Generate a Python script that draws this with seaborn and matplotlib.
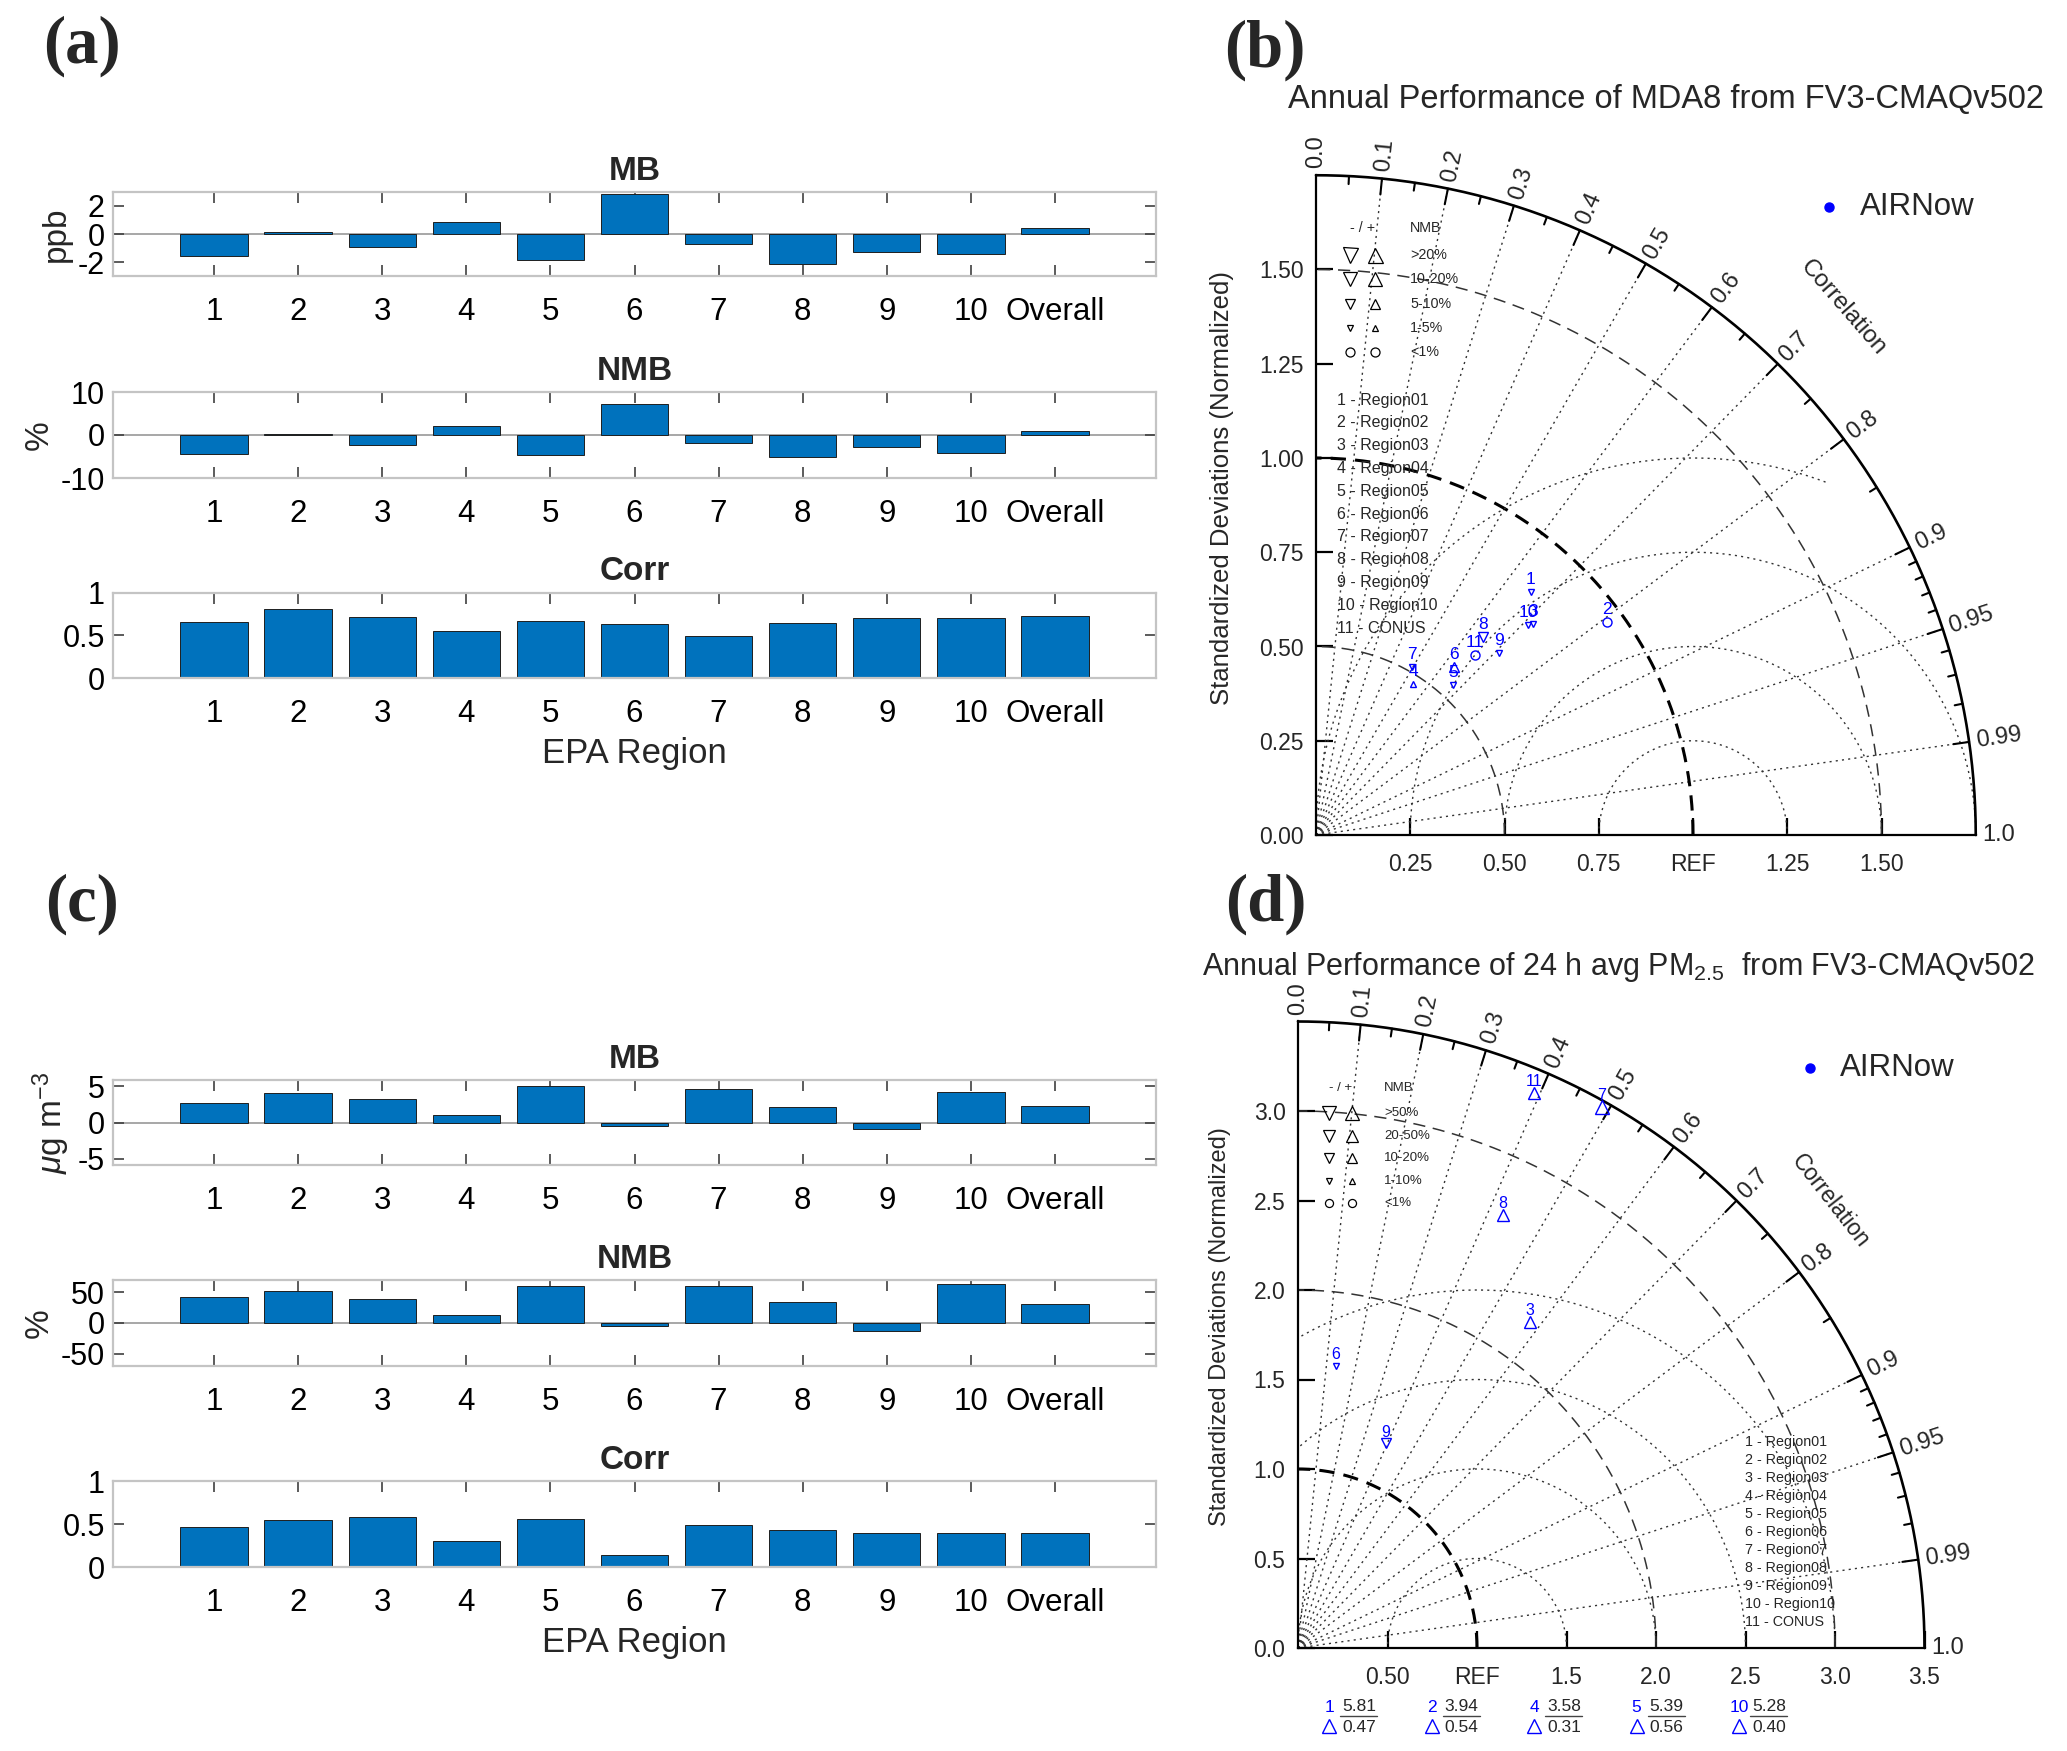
import numpy as np
import pandas as pd
import matplotlib
matplotlib.use('Agg')
import matplotlib.pyplot as plt
import seaborn as sns

W, H = 2067, 1751

regions = ['1', '2', '3', '4', '5', '6', '7', '8', '9', '10', 'Overall']

# (a) MDA8 O3 statistics
o3_mb = [-1.57, 0.14, -0.89, 0.82, -1.82, 2.80, -0.73, -2.11, -1.23, -1.39, 0.43]
o3_nmb = [-4.4, 0.3, -2.3, 2.0, -4.6, 7.1, -1.9, -5.1, -2.9, -4.1, 0.9]
o3_corr = [0.663, 0.812, 0.722, 0.549, 0.675, 0.635, 0.498, 0.647, 0.706, 0.710, 0.725]

# (c) 24 h PM2.5 statistics
pm_mb = [2.69, 4.07, 3.24, 1.11, 5.00, -0.42, 4.63, 2.13, -0.93, 4.26, 2.27]
pm_nmb = [42.4, 52.7, 39.1, 13.6, 59.8, -4.9, 59.8, 34.2, -12.5, 64.1, 30.4]
pm_corr = [0.467, 0.545, 0.580, 0.307, 0.556, 0.136, 0.486, 0.436, 0.397, 0.397, 0.400]

# Taylor diagrams (normalized std, correlation), ids 1..11
td_ids = ['1', '2', '3', '4', '5', '6', '7', '8', '9', '10', '11']
td_names = ['Region01', 'Region02', 'Region03', 'Region04', 'Region05', 'Region06',
            'Region07', 'Region08', 'Region09', 'Region10', 'CONUS']
o3_td_std = [0.861, 0.956, 0.803, 0.476, 0.539, 0.578, 0.514, 0.686, 0.684, 0.792, 0.637]
o3_td_corr = [0.662, 0.807, 0.718, 0.542, 0.675, 0.635, 0.494, 0.645, 0.710, 0.711, 0.662]
pm_td_std = [5.81, 3.94, 2.235, 3.58, 5.39, 1.592, 3.468, 2.676, 1.244, 5.28, 3.369]
pm_td_corr = [0.47, 0.54, 0.580, 0.31, 0.56, 0.133, 0.489, 0.428, 0.394, 0.40, 0.391]

o3_nmb_bins = [1, 5, 10, 20]
o3_nmb_text = ['>20%', '10-20%', '5-10%', '1-5%', '<1%']
pm_nmb_bins = [1, 10, 20, 50]
pm_nmb_text = ['>50%', '20-50%', '10-20%', '1-10%', '<1%']

corr_ticks = [0.0, 0.1, 0.2, 0.3, 0.4, 0.5, 0.6, 0.7, 0.8, 0.9, 0.95, 0.99, 1.0]
corr_tick_labels = ['0.0', '0.1', '0.2', '0.3', '0.4', '0.5', '0.6', '0.7', '0.8', '0.9',
                    '0.95', '0.99', '1.0']

sns.set_style('ticks')
plt.rcParams['font.family'] = ['Liberation Sans', 'DejaVu Sans']
plt.rcParams['mathtext.fontset'] = 'custom'
plt.rcParams['mathtext.rm'] = 'Liberation Sans'
plt.rcParams['mathtext.it'] = 'Liberation Sans:italic'

BAR_BLUE = '#0072BD'
PT_BLUE = '#0000FF'

fig = plt.figure(figsize=(W / 100, H / 100), dpi=100)


def fx(px):
    return px / W


def fy(py):
    return 1 - py / H


def bar_panel(top, bottom, values, title, ylabel, ylim, yticks, xlabel=None):
    ax = fig.add_axes([fx(113), fy(bottom), (1156 - 113) / W, (bottom - top) / H])
    df = pd.DataFrame({'Region': regions, 'Value': values})
    sns.barplot(data=df, x='Region', y='Value', ax=ax, color=BAR_BLUE, saturation=1,
                width=0.8, edgecolor='#1f1f1f', linewidth=0.7, errorbar=None)
    ax.axhline(0, color='#a0a0a0', lw=1.3, zorder=0.5)
    ax.set_xlim(-1.2, 11.2)
    ax.set_ylim(*ylim)
    ax.set_yticks(yticks, [f'{t:g}' for t in yticks])
    for s in ax.spines.values():
        s.set_color('#c4c4c4')
        s.set_linewidth(1.6)
    ax.tick_params(direction='in', length=8, width=1.2, color='#404040',
                   top=True, right=True, labelcolor='black')
    ax.tick_params(axis='x', pad=15, labelsize=22.5)
    ax.tick_params(axis='y', pad=6, labelsize=22)
    ax.set_title(title, fontsize=24, fontweight='bold', pad=9)
    ax.set_ylabel(ylabel, fontsize=24, labelpad=4)
    if xlabel:
        ax.set_xlabel(xlabel, fontsize=25, labelpad=6)
    else:
        ax.set_xlabel('')
    return ax


bar_panel(192, 276, o3_mb, 'MB', 'ppb', (-2.95, 2.95), [-2, 0, 2])
bar_panel(392, 478, o3_nmb, 'NMB', '%', (-10, 10), [-10, 0, 10])
bar_panel(593, 678, o3_corr, 'Corr', '', (0, 1), [0, 0.5, 1], 'EPA Region')
bar_panel(1080, 1165, pm_mb, 'MB', r'$\mu$g m$^{-3}$', (-5.9, 5.9), [-5, 0, 5])
bar_panel(1280, 1366, pm_nmb, 'NMB', '%', (-70, 70), [-50, 0, 50])
bar_panel(1481, 1567, pm_corr, 'Corr', '', (0, 1), [0, 0.5, 1], 'EPA Region')


def nmb_class(v, bins):
    a = abs(v)
    for i, b in enumerate(bins):
        if a < b:
            return i
    return len(bins)


def nmb_marker(v, cls):
    if cls == 0:
        return 'o'
    return '^' if v > 0 else 'v'


def taylor(ox, oy, scale, rmax, std_arcs, rms_list, xt, xtl, yt, ytl):
    size = rmax * scale
    ax = fig.add_axes([fx(ox), fy(oy), size / W, size / H])
    ax.set_xlim(0, rmax)
    ax.set_ylim(0, rmax)
    ax.set_autoscale_on(False)
    ax.patch.set_alpha(0)
    ax.spines[['top', 'right']].set_visible(False)
    for s in ('left', 'bottom'):
        ax.spines[s].set_linewidth(1.6)
        ax.spines[s].set_color('black')
    ax.set_xticks(xt, xtl)
    ax.set_yticks(yt, ytl)
    ax.tick_params(direction='in', length=12, width=1.6, color='black', labelsize=16.5)
    ax.tick_params(axis='x', pad=13)
    ax.tick_params(axis='y', pad=9)

    dot = (0, (1.5, 3))
    # correlation rays
    for c in [0.1, 0.2, 0.3, 0.4, 0.5, 0.6, 0.7, 0.8, 0.9, 0.95, 0.99]:
        th = np.arccos(c)
        ax.plot([0, rmax * np.cos(th)], [0, rmax * np.sin(th)], ls=dot, lw=1.0,
                color='#333333', clip_on=False)
    # std arcs
    t = np.linspace(0, np.pi / 2, 300)
    for r in std_arcs:
        if r == 1.0:
            ax.plot(r * np.cos(t), r * np.sin(t), ls=(0, (5, 3)), lw=2.2, color='black')
        else:
            ax.plot(r * np.cos(t), r * np.sin(t), ls=(0, (8, 5)), lw=1.1, color='#333333')
    # centred RMS circles; those leaving the diagram stop a little inside it
    t2 = np.linspace(0, np.pi, 600)
    for r in rms_list:
        x = 1 + r * np.cos(t2)
        y = r * np.sin(t2)
        lim = rmax if 1 + r <= rmax + 1e-9 else 0.94 * rmax
        bad = (x < 0) | (x ** 2 + y ** 2 > lim ** 2 + 1e-9)
        x[bad] = np.nan
        y[bad] = np.nan
        ax.plot(x, y, ls=dot, lw=1.0, color='#333333')
    # outer arc
    ax.plot(rmax * np.cos(t), rmax * np.sin(t), color='black', lw=1.9, clip_on=False)
    # arc ticks
    major = [0.1, 0.2, 0.3, 0.4, 0.5, 0.6, 0.7, 0.8, 0.9, 0.95, 0.99]
    minor = [0.05, 0.15, 0.25, 0.35, 0.45, 0.55, 0.65, 0.75, 0.85,
             0.91, 0.92, 0.93, 0.94, 0.96, 0.97, 0.98]
    for lst, ln in ((major, 16), (minor, 8)):
        for c in lst:
            th = np.arccos(c)
            r0 = rmax - ln / scale
            ax.plot([r0 * np.cos(th), rmax * np.cos(th)], [r0 * np.sin(th), rmax * np.sin(th)],
                    color='black', lw=1.5, clip_on=False)
    gap = 7 / scale
    for c, lab in zip(corr_ticks, corr_tick_labels):
        th = np.arccos(c)
        ax.text((rmax + gap) * np.cos(th), (rmax + gap) * np.sin(th), lab,
                rotation=np.degrees(th), rotation_mode='anchor', ha='left', va='center',
                fontsize=17, clip_on=False)
    return ax


def plot_points(ax, stds, corrs, nmbs, bins, sizes, rmax, fs, off):
    for i in range(len(stds)):
        if stds[i] > rmax:
            continue
        th = np.arccos(corrs[i])
        x, y = stds[i] * np.cos(th), stds[i] * np.sin(th)
        cls = nmb_class(nmbs[i], bins)
        ax.plot(x, y, marker=nmb_marker(nmbs[i], cls), ms=sizes[cls], mfc='none',
                mec=PT_BLUE, mew=1.0, ls='none')
        ax.annotate(td_ids[i], (x, y), xytext=(0, off), textcoords='offset points',
                    ha='center', va='center', color=PT_BLUE, fontsize=fs)


def nmb_legend(ax, xs, x_up, x_txt, y0, dy, labels, sizes, fs):
    ax.text(fx((xs + x_up) / 2), fy(y0 - dy * 1.1), '- / +', transform=fig.transFigure,
            ha='center', va='center', fontsize=fs)
    ax.text(fx(x_txt), fy(y0 - dy * 1.1), 'NMB', transform=fig.transFigure,
            ha='left', va='center', fontsize=fs)
    for k, lab in enumerate(labels):
        cls = len(labels) - 1 - k
        yy = y0 + k * dy
        if cls == 0:
            mk = ('o', 'o')
        else:
            mk = ('v', '^')
        ax.plot([fx(xs)], [fy(yy)], marker=mk[0], ms=sizes[cls], mfc='none', mec='black',
                mew=0.9, transform=fig.transFigure, clip_on=False)
        ax.plot([fx(x_up)], [fy(yy)], marker=mk[1], ms=sizes[cls], mfc='none', mec='black',
                mew=0.9, transform=fig.transFigure, clip_on=False)
        ax.text(fx(x_txt), fy(yy), lab, transform=fig.transFigure, ha='left', va='center',
                fontsize=fs)


def region_legend(ax, x0, y0, dy, fs):
    for i, (k, nm) in enumerate(zip(td_ids, td_names)):
        ax.text(fx(x0), fy(y0 + i * dy), f'{k} - {nm}', transform=fig.transFigure,
                ha='left', va='center', fontsize=fs)


def airnow(ax, xd, y, xt):
    ax.plot([fx(xd)], [fy(y)], marker='o', ms=6.5, color=PT_BLUE,
            transform=fig.transFigure, clip_on=False)
    ax.text(fx(xt), fy(y), 'AIRNow', transform=fig.transFigure, ha='left', va='center',
            fontsize=22.5)


# ---- (b) MDA8 Taylor diagram
axb = taylor(1316, 835, 377, 1.75, [0.5, 1.0, 1.5], [0.25, 0.5, 0.75, 1.0],
             [0.25, 0.5, 0.75, 1.0, 1.25, 1.5], ['0.25', '0.50', '0.75', 'REF', '1.25', '1.50'],
             [0, 0.25, 0.5, 0.75, 1.0, 1.25, 1.5],
             ['0.00', '0.25', '0.50', '0.75', '1.00', '1.25', '1.50'])
o3_sizes = [6.5, 5.0, 7.2, 9.4, 10.8]
plot_points(axb, o3_td_std, o3_td_corr, o3_nmb, o3_nmb_bins, o3_sizes, 1.75, 12.5, 9)
nmb_legend(axb, 1350, 1375, 1410, 255, 24.3, o3_nmb_text, o3_sizes, 10.3)
region_legend(axb, 1337, 400, 22.8, 11.5)
airnow(axb, 1829, 207, 1860)
th = np.radians(45)
axb.text(1.13 * 1.75 * np.cos(th), 1.13 * 1.75 * np.sin(th), 'Correlation', rotation=-49,
         ha='center', va='center', fontsize=17.5, clip_on=False)
fig.text(fx(1222), fy(488), 'Standardized Deviations (Normalized)', rotation=90,
         ha='center', va='center', fontsize=18.5)
fig.text(fx(1666), fy(100), 'Annual Performance of MDA8 from FV3-CMAQv502',
         ha='center', va='center', fontsize=23.5)

# ---- (d) PM2.5 Taylor diagram
axd = taylor(1298, 1648, 179, 3.5, [1.0, 2.0, 3.0], [0.5, 1.0, 1.5, 2.0],
             [0.5, 1.0, 1.5, 2.0, 2.5, 3.0, 3.5], ['0.50', 'REF', '1.5', '2.0', '2.5', '3.0', '3.5'],
             [0, 0.5, 1.0, 1.5, 2.0, 2.5, 3.0],
             ['0.0', '0.5', '1.0', '1.5', '2.0', '2.5', '3.0'])
pm_sizes = [5.8, 4.3, 6.5, 9.2, 10.0]
plot_points(axd, pm_td_std, pm_td_corr, pm_nmb, pm_nmb_bins, pm_sizes, 3.5, 11.5, 8)
nmb_legend(axd, 1329, 1352, 1384, 1113, 22.6, pm_nmb_text, pm_sizes, 9.5)
region_legend(axd, 1745, 1442, 18.0, 10.3)
airnow(axd, 1810, 1068, 1840)
th = np.radians(40)
axd.text(1.11 * 3.5 * np.cos(th), 1.11 * 3.5 * np.sin(th), 'Correlation', rotation=-52,
         ha='center', va='center', fontsize=16.5, clip_on=False)
fig.text(fx(1220), fy(1327), 'Standardized Deviations (Normalized)', rotation=90,
         ha='center', va='center', fontsize=17)
fig.text(fx(1619), fy(967), 'Annual Performance of 24 h avg PM$_{2.5}$  from FV3-CMAQv502',
         ha='center', va='center', fontsize=22)

# off-diagram points listed below the (d) axis
col = 0
for i in range(len(pm_td_std)):
    if pm_td_std[i] <= 3.5:
        continue
    x0 = 1329 + 102.5 * col
    fig.text(fx(x0), fy(1707), td_ids[i], color=PT_BLUE, ha='center', va='center', fontsize=12.5)
    axd.plot([fx(x0)], [fy(1726)], marker='^', ms=9.5, mfc='none', mec=PT_BLUE, mew=1.0,
             transform=fig.transFigure, clip_on=False)
    fig.text(fx(x0 + 30), fy(1706), f'{pm_td_std[i]:.2f}', ha='center', va='center', fontsize=12.5)
    fig.text(fx(x0 + 30), fy(1727), f'{pm_td_corr[i]:.2f}', ha='center', va='center', fontsize=12.5)
    axd.plot([fx(x0 + 11), fx(x0 + 48)], [fy(1716), fy(1716)], color='#444444', lw=1.0,
             transform=fig.transFigure, clip_on=False)
    col += 1

# panel labels
for lab, (px, py) in zip(['(a)', '(b)', '(c)', '(d)'],
                         [(82, 46), (1265, 50), (82, 904), (1266, 904)]):
    fig.text(fx(px), fy(py), lab, ha='center', va='center', fontsize=48,
             fontweight='bold', family=['Liberation Serif', 'DejaVu Serif'])

fig.savefig('out.png', dpi=100)
